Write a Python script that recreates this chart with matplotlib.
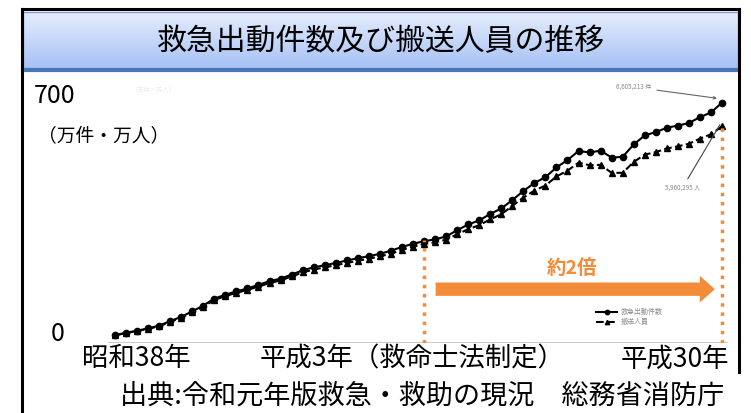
import numpy as np
import matplotlib
matplotlib.use('Agg')
import matplotlib.pyplot as plt
from matplotlib.lines import Line2D
from matplotlib.patches import FancyArrowPatch

plt.rcParams['font.family'] = ['Noto Sans CJK JP', 'DejaVu Sans']

# data (万件 / 万人)
years = np.arange(1963, 2019)
dispatches = [22, 28, 34, 40, 48, 60, 72, 87, 103, 122,
              133, 142, 150, 160, 170, 177, 188, 200, 208, 214,
              220, 227, 233, 239, 245, 254, 264, 273, 280, 285,
              293, 310, 326, 337, 355, 370, 393, 418, 440, 456,
              483, 503, 528, 524, 529, 510, 512, 546, 571, 580,
              592, 598, 605, 621, 634, 661]
carried = [21, 27, 33, 39, 46, 58, 70, 84, 100, 118,
           129, 138, 146, 155, 165, 172, 183, 194, 202, 208,
           214, 220, 226, 232, 238, 246, 256, 265, 272, 277,
           284, 299, 313, 324, 340, 354, 377, 400, 419, 433,
           458, 474, 496, 489, 490, 468, 468, 498, 518, 525,
           535, 541, 548, 562, 574, 596]
title = '救急出動件数及び搬送人員の推移'
xlabels = ['昭和38年', '平成3年（救命士法制定）', '平成30年']
source = '出典:令和元年版救急・救助の現況　総務省消防庁'
W, H = 751, 413

fig = plt.figure(figsize=(W / 100, H / 100), dpi=100)
fig.patch.set_facecolor('white')


def fx(px):
    return px / W


def fy(py):
    return 1 - py / H


# outer black frame
for (x0, y0, x1, y1) in [(22, 9, 22, 413), (22, 9, 739, 9), (739, 9, 739, 372)]:
    fig.add_artist(Line2D([fx(x0), fx(x1)], [fy(y0), fy(y1)], color='black', lw=2.2))

# title box with blue gradient
tax = fig.add_axes([fx(23), fy(71), fx(715), 59 / H])
grad = np.linspace(0, 1, 100).reshape(-1, 1)
top = np.array([0.90, 0.93, 0.99])
bot = np.array([0.64, 0.75, 0.96])
img = top[None, None, :] * (1 - grad[:, :, None]) + bot[None, None, :] * grad[:, :, None]
tax.imshow(img, aspect='auto', extent=(0, 1, 0, 1))
tax.set_xlim(0, 1)
tax.set_ylim(0, 1)
tax.axis('off')
tax.plot([0, 1], [0.02, 0.02], color='#4a74b8', lw=3, clip_on=False)
tax.plot([0, 1], [1, 1], color='#7f9fd4', lw=1, clip_on=False)
tax.plot([0, 0], [0, 1], color='#7f9fd4', lw=1, clip_on=False)
tax.plot([1, 1], [0, 1], color='#7f9fd4', lw=1, clip_on=False)
tax.text(0.5, 0.5, title, ha='center', va='center', fontsize=21.5, color='black')

# chart area
ax = fig.add_axes([fx(108), fy(343), 620 / W, 258 / H])
ax.set_xlim(1963 - 7 / 11.036, 2018 + 6 / 11.036)
ax.set_ylim(0, 258 / 0.3636)
for s in ax.spines.values():
    s.set_visible(False)
ax.set_xticks([])
ax.set_yticks([])
ax.axhline(0, color='#c4c4c4', lw=2)

ax.plot(years, dispatches, color='black', lw=1.5, marker='o', ms=4.5, label='救急出動件数')
ax.plot(years, carried, color='black', lw=1.5, ls='--', marker='^', ms=4.5, label='搬送人員')

orange = '#f28c38'
ax.plot([1991, 1991], [0, 282], color=orange, ls=':', lw=2.5)
ax.plot([2018, 2018], [0, 600], color=orange, ls=':', lw=2.5)
arrow = FancyArrowPatch((1991.8, 148), (2017.6, 148),
                        arrowstyle='simple,head_length=0.9,head_width=1.6,tail_width=0.8',
                        mutation_scale=12, color=orange, lw=0)
ax.add_patch(arrow)
ax.text(2004.4, 204, '約2倍', color=orange, fontsize=14, fontweight='bold',
        ha='center', va='center')

ax.annotate('6,605,213 件', xy=(2017.8, 672), xytext=(2010.0, 704),
            fontsize=4.5, color='#888888', ha='center', va='center',
            arrowprops=dict(arrowstyle='->', color='#666666', lw=0.8))
ax.annotate('5,960,295 人', xy=(2017.8, 600), xytext=(2014.4, 426),
            fontsize=4.5, color='#888888', ha='center', va='center',
            arrowprops=dict(arrowstyle='-', color='#444444', lw=0.8, shrinkB=0))
ax.text(1966.5, 697, '（万件・万人）', fontsize=4.5, color='#e6e6e6', ha='center', va='center')

ax.legend(loc='center left', bbox_to_anchor=((590 - 108) / 620, (343 - 317) / 258),
          frameon=False, fontsize=5, labelcolor='#8a8a8a', handlelength=3,
          markerscale=0.7, labelspacing=0.3, handletextpad=0.5)

# labels outside the chart image
fig.text(fx(55), fy(96), '700', fontsize=18, ha='center', va='center')
fig.text(fx(104), fy(136), '（万件・万人）', fontsize=13.5, ha='center', va='center')
fig.text(fx(58), fy(334), '0', fontsize=18, ha='center', va='center')
fig.text(fx(136), fy(359), xlabels[0], fontsize=19, ha='center', va='center')
fig.text(fx(412), fy(359), xlabels[1], fontsize=19, ha='center', va='center')
fig.text(fx(675), fy(359), xlabels[2], fontsize=19, ha='center', va='center')
fig.text(fx(120), fy(396), source, fontsize=19.5, ha='left', va='center')

fig.savefig('out.png', dpi=100, facecolor='white')
